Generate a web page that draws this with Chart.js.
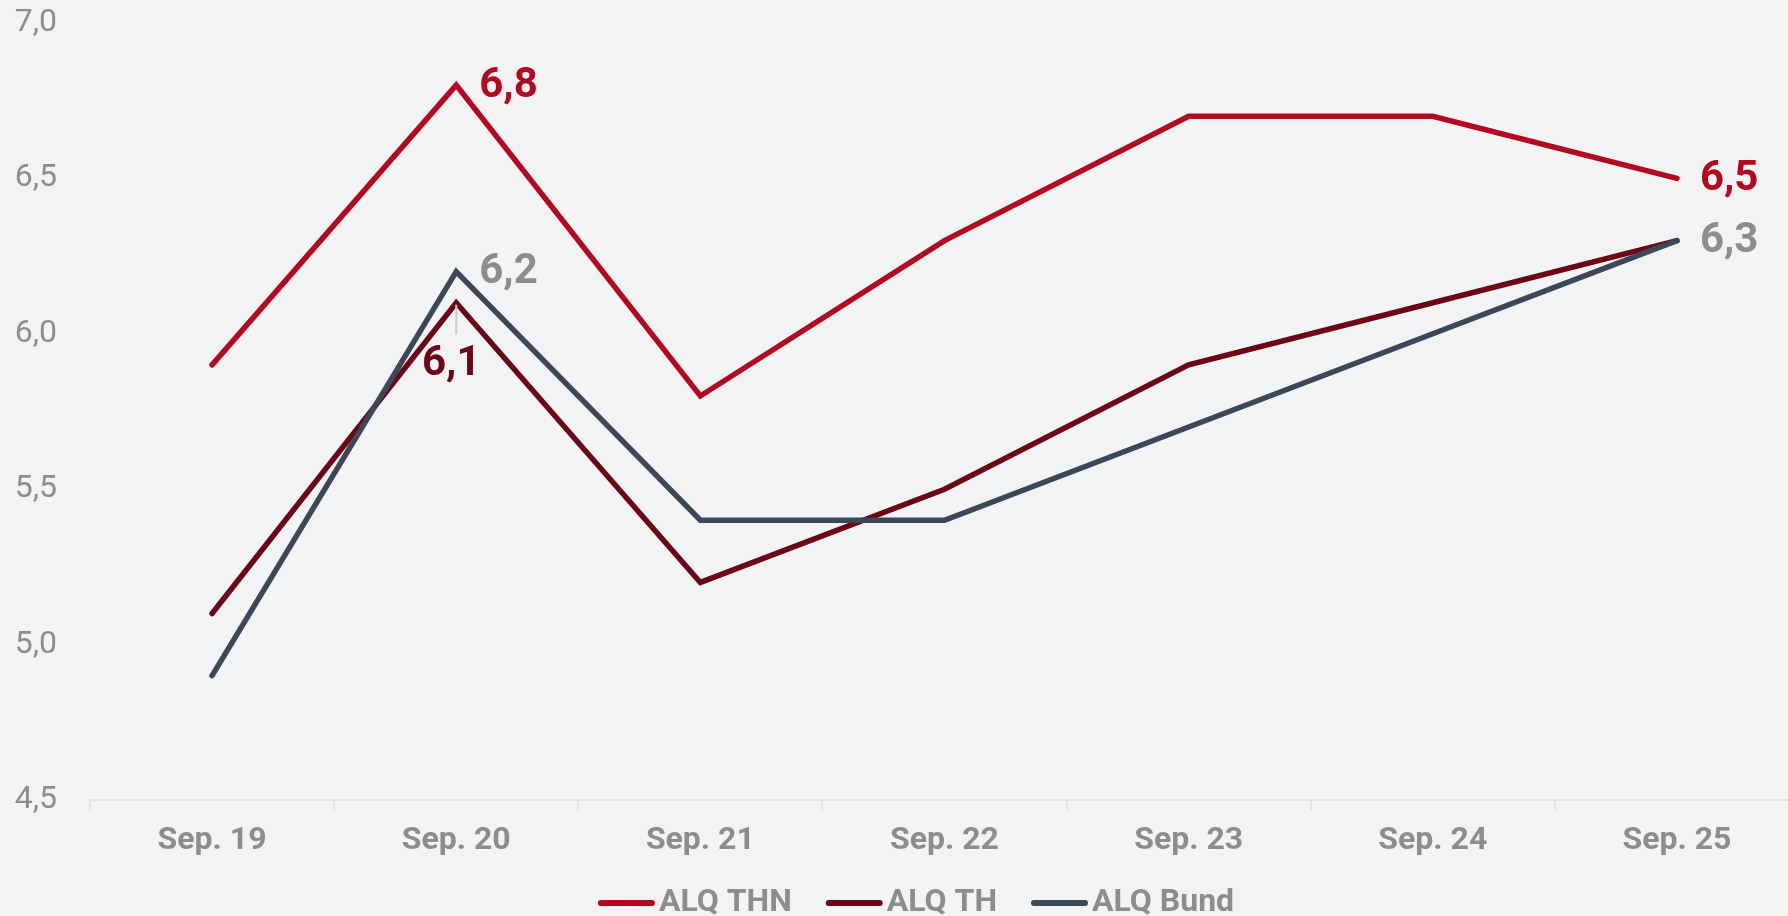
<!DOCTYPE html>
<html>
<head>
<meta charset="utf-8">
<script src="https://cdn.jsdelivr.net/npm/chart.js@4.4.0/dist/chart.umd.min.js"></script>
<style>
    html, body { margin: 0; padding: 0; background: #f2f3f5; overflow: hidden; }
    #wrap { width: 1800px; height: 916px; }
</style>
</head>
<body>
<div id="wrap"><canvas id="alqChart"></canvas></div>
<script>
// Arbeitslosenquote, jeweils September
const categories = ['Sep. 19', 'Sep. 20', 'Sep. 21', 'Sep. 22', 'Sep. 23', 'Sep. 24', 'Sep. 25'];
const alqThn = [5.9, 6.8, 5.8, 6.3, 6.7, 6.7, 6.5];
const alqTh = [5.1, 6.1, 5.2, 5.5, 5.9, 6.1, 6.3];
const alqBund = [4.9, 6.2, 5.4, 5.4, 5.7, 6.0, 6.3];
const yTicks = [4.5, 5.0, 5.5, 6.0, 6.5, 7.0];

const RED = '#b3081f';
const DARK_RED = '#6c0614';
const SLATE = '#3c4859';
const GREY = '#8d8d8d';
const AXIS = '#e2e3e6';

function fmt(v) {
    return v.toFixed(1).replace('.', ',');
}

// which points get a value label, and where
const valueLabels = [
    { ds: 0, i: 1, color: RED, place: 'right' },
    { ds: 0, i: 6, color: RED, place: 'right' },
    { ds: 2, i: 1, color: GREY, place: 'right' },
    { ds: 1, i: 1, color: DARK_RED, place: 'below' },
    { ds: 2, i: 6, color: GREY, place: 'right' }
];

const valueLabelPlugin = {
    id: 'valueLabels',
    afterDatasetsDraw(chart) {
        const ctx = chart.ctx;
        ctx.save();
        ctx.font = 'bold 42px Roboto';
        ctx.textBaseline = 'middle';
        valueLabels.forEach(l => {
            const pt = chart.getDatasetMeta(l.ds).data[l.i];
            const text = fmt(chart.data.datasets[l.ds].data[l.i]);
            ctx.fillStyle = l.color;
            if (l.place === 'right') {
                ctx.textAlign = 'left';
                ctx.fillText(text, pt.x + 23, pt.y + 1);
            } else {
                // leader line down to the label
                ctx.strokeStyle = '#c9cacd';
                ctx.lineWidth = 2;
                ctx.beginPath();
                ctx.moveTo(pt.x, pt.y + 2);
                ctx.lineTo(pt.x, pt.y + 32);
                ctx.stroke();
                ctx.textAlign = 'center';
                ctx.fillText(text, pt.x - 5, pt.y + 62);
            }
        });
        ctx.restore();
    }
};

// legend drawn by hand: long line symbol, text right next to it
const lineLegendPlugin = {
    id: 'lineLegend',
    afterDraw(chart) {
        const ctx = chart.ctx;
        const lineLen = 57, textGap = 4, itemGap = 34;
        ctx.save();
        ctx.font = 'bold 32px Roboto';
        ctx.textBaseline = 'middle';
        ctx.textAlign = 'left';
        const items = chart.data.datasets.map(ds => ({
            text: ds.label,
            color: ds.borderColor,
            w: ctx.measureText(ds.label).width
        }));
        let total = 0;
        items.forEach((it, i) => {
            total += lineLen + textGap + it.w + (i > 0 ? itemGap : 0);
        });
        let x = chart.width / 2 + 16 - total / 2;
        const y = 903;
        items.forEach(it => {
            ctx.strokeStyle = it.color;
            ctx.lineWidth = 6;
            ctx.lineCap = 'round';
            ctx.beginPath();
            ctx.moveTo(x + 3, y);
            ctx.lineTo(x + lineLen - 3, y);
            ctx.stroke();
            ctx.fillStyle = GREY;
            ctx.fillText(it.text, x + lineLen + textGap, y);
            x += lineLen + textGap + it.w + itemGap;
        });
        ctx.restore();
    }
};

function lineSet(label, data, color, order) {
    return {
        label: label,
        data: data,
        borderColor: color,
        backgroundColor: color,
        borderWidth: 5.5,
        pointRadius: 0,
        pointHoverRadius: 0,
        borderJoinStyle: 'miter',
        borderCapStyle: 'round',
        tension: 0,
        order: order
    };
}

const ctx = document.getElementById('alqChart').getContext('2d');
new Chart(ctx, {
    type: 'line',
    data: {
        labels: categories,
        datasets: [
            lineSet('ALQ THN', alqThn, RED, 2),
            lineSet('ALQ TH', alqTh, DARK_RED, 1),
            lineSet('ALQ Bund', alqBund, SLATE, 0)
        ]
    },
    options: {
        responsive: true,
        maintainAspectRatio: false,
        animation: false,
        devicePixelRatio: 1,
        layout: {
            padding: { top: 23, right: 1, left: 0, bottom: 58 }
        },
        plugins: {
            legend: { display: false },
            tooltip: { enabled: false }
        },
        scales: {
            x: {
                offset: true,
                afterFit: function(scale) {
                    scale.height = 58;
                },
                grid: {
                    offset: true,
                    drawOnChartArea: false,
                    drawTicks: true,
                    tickLength: 10,
                    color: AXIS,
                    lineWidth: 2
                },
                border: { display: true, color: AXIS, width: 2 },
                ticks: {
                    color: GREY,
                    padding: 12,
                    font: { family: 'Roboto', size: 32, weight: 'bold' }
                }
            },
            y: {
                min: 4.5,
                max: 7.0,
                afterBuildTicks: function(scale) {
                    scale.ticks = yTicks.map(v => ({ value: v }));
                },
                afterFit: function(scale) {
                    scale.width = 90;
                    scale.paddingTop = 0;
                    scale.paddingBottom = 0;
                },
                grid: { display: false, drawTicks: false },
                border: { display: false },
                ticks: {
                    color: GREY,
                    padding: 33,
                    font: { family: 'Roboto', size: 32 },
                    callback: function(value) {
                        return fmt(value);
                    }
                }
            }
        }
    },
    plugins: [valueLabelPlugin, lineLegendPlugin]
});
</script>
</body>
</html>
